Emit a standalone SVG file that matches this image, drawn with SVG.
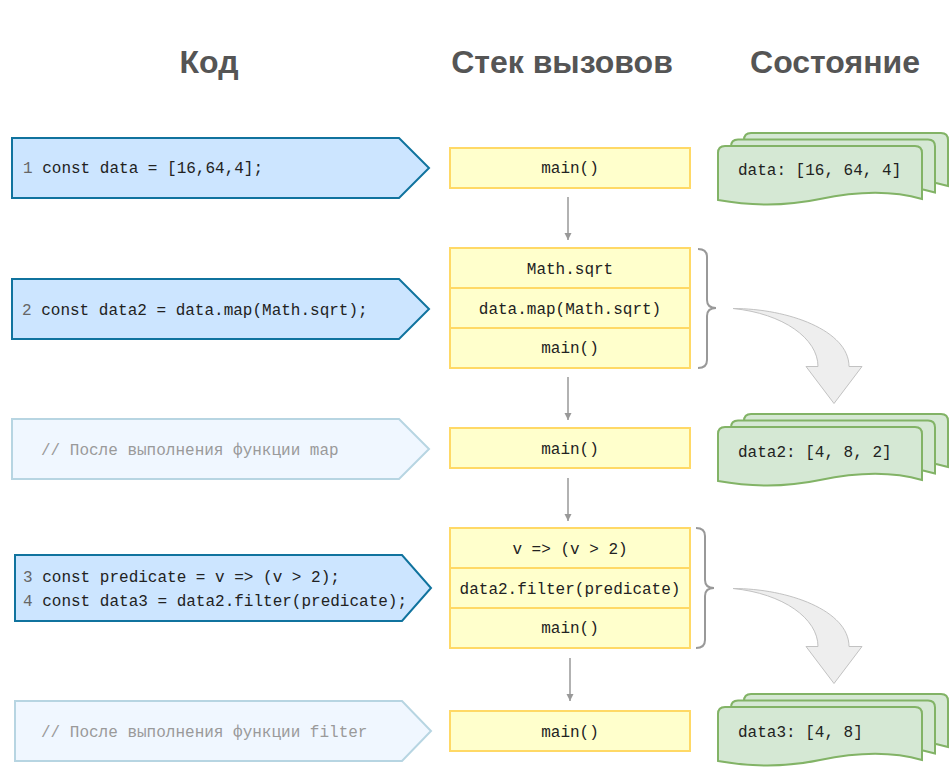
<svg xmlns="http://www.w3.org/2000/svg" width="950" height="769" viewBox="0 0 950 769">
<defs>
<style>
.title{font-family:"Liberation Sans",Arial,sans-serif;font-weight:bold;font-size:32px;fill:#555555;text-anchor:middle}
.code{fill:#cce5ff;stroke:#10739e;stroke-width:2}
.codef{fill:#f0f7ff;stroke:#b7d5e2;stroke-width:2}
.mono{font-family:"Liberation Mono","Courier New",monospace;font-size:16px;fill:#222222}
.num{fill:#666666}
.cmt{font-family:"Liberation Mono","Courier New",monospace;font-size:16px;fill:#9a9a9a}
.stk{fill:#ffffcc;stroke:#ffd966;stroke-width:2}
.stxt{font-family:"Liberation Mono","Courier New",monospace;font-size:16px;fill:#222222;text-anchor:middle}
.doc{fill:#d5e8d4;stroke:#82b366;stroke-width:2}
.conn{stroke:#999999;stroke-width:1.5;fill:none}
.brace{stroke:#999999;stroke-width:2;fill:none}
.flow{fill:#eeeeee;stroke:#c2c2c2;stroke-width:1}
</style>
<marker id="ah" markerWidth="8" markerHeight="8" refX="7" refY="4" orient="auto" markerUnits="userSpaceOnUse">
<path d="M0,0.5 L7,4 L0,7.5 Z" fill="#999999"/>
</marker>
<path id="sheet" d="M0,54 L0,7 Q0,0 7,0 L197,0 Q204,0 204,7 L204,53 C170,43 135,46 102,53 C69,60 34,60 0,54 Z"/>
<path id="curve" d="M0,0 C55,0 116,22 116,58 L129,58 L101,95 L73,58 L85,58 C85,30 50,5 0,0 Z"/>
</defs>
<rect width="950" height="769" fill="#ffffff"/>

<g id="titles">
<text class="title" x="209" y="73">Код</text>
<text class="title" x="562" y="73">Стек вызовов</text>
<text class="title" x="835" y="73">Состояние</text>
</g>

<g id="code1">
<path class="code" d="M12,138 L399,138 L429,168 L399,198 L12,198 Z"/>
<text class="mono" x="23" y="173"><tspan class="num">1</tspan> const data = [16,64,4];</text>
</g>
<g id="code2">
<path class="code" d="M12,279 L399,279 L429,309 L399,339 L12,339 Z"/>
<text class="mono" x="22" y="315"><tspan class="num">2</tspan> const data2 = data.map(Math.sqrt);</text>
</g>
<g id="code3">
<path class="codef" d="M12,419 L399,419 L429,449 L399,479 L12,479 Z"/>
<text class="cmt" x="41" y="455">// После выполнения функции map</text>
</g>
<g id="code4">
<path class="code" d="M15,555 L402,555 L431,588 L402,621 L15,621 Z"/>
<text class="mono" x="23" y="582"><tspan class="num">3</tspan> const predicate = v =&gt; (v &gt; 2);</text>
<text class="mono" x="23" y="606"><tspan class="num">4</tspan> const data3 = data2.filter(predicate);</text>
</g>
<g id="code5">
<path class="codef" d="M15,701 L402,701 L431,731 L402,761 L15,761 Z"/>
<text class="cmt" x="41" y="737">// После выполнения функции filter</text>
</g>

<g id="stack1">
<rect class="stk" x="450" y="148" width="240" height="40"/>
<text class="stxt" x="570" y="173">main()</text>
</g>
<g id="stack2">
<rect class="stk" x="450" y="248" width="240" height="40"/>
<text class="stxt" x="570" y="274">Math.sqrt</text>
<rect class="stk" x="450" y="288" width="240" height="40"/>
<text class="stxt" x="570" y="314">data.map(Math.sqrt)</text>
<rect class="stk" x="450" y="328" width="240" height="40"/>
<text class="stxt" x="570" y="353">main()</text>
</g>
<g id="stack3">
<rect class="stk" x="450" y="428" width="240" height="40"/>
<text class="stxt" x="570" y="454">main()</text>
</g>
<g id="stack4">
<rect class="stk" x="450" y="528" width="240" height="40"/>
<text class="stxt" x="570" y="554">v =&gt; (v &gt; 2)</text>
<rect class="stk" x="450" y="568" width="240" height="40"/>
<text class="stxt" x="570" y="594">data2.filter(predicate)</text>
<rect class="stk" x="450" y="608" width="240" height="40"/>
<text class="stxt" x="570" y="633">main()</text>
</g>
<g id="stack5">
<rect class="stk" x="450" y="711" width="240" height="40"/>
<text class="stxt" x="570" y="737">main()</text>
</g>

<g id="state1">
<use href="#sheet" class="doc" transform="translate(744,133)"/>
<use href="#sheet" class="doc" transform="translate(731,139.5)"/>
<use href="#sheet" class="doc" transform="translate(718,146)"/>
<text class="mono" x="738" y="175">data: [16, 64, 4]</text>
</g>
<g id="state2">
<use href="#sheet" class="doc" transform="translate(744,414)"/>
<use href="#sheet" class="doc" transform="translate(731,420.5)"/>
<use href="#sheet" class="doc" transform="translate(718,427)"/>
<text class="mono" x="738" y="457">data2: [4, 8, 2]</text>
</g>
<g id="state3">
<use href="#sheet" class="doc" transform="translate(744,694)"/>
<use href="#sheet" class="doc" transform="translate(731,700.5)"/>
<use href="#sheet" class="doc" transform="translate(718,707)"/>
<text class="mono" x="738" y="737">data3: [4, 8]</text>
</g>

<g id="connectors">
<line class="conn" x1="568" y1="197" x2="568" y2="240" marker-end="url(#ah)"/>
<line class="conn" x1="568" y1="377" x2="568" y2="420" marker-end="url(#ah)"/>
<line class="conn" x1="568" y1="478" x2="568" y2="521" marker-end="url(#ah)"/>
<line class="conn" x1="570" y1="658" x2="570" y2="701" marker-end="url(#ah)"/>
<path class="brace" d="M698,249 Q707,249 707,257 L707,300 Q707,308 716,308 Q707,308 707,316 L707,360 Q707,368 698,368"/>
<path class="brace" d="M696,528 Q705,528 705,536 L705,580 Q705,588 714,588 Q705,588 705,596 L705,640 Q705,648 696,648"/>
<use href="#curve" class="flow" transform="translate(733,308.5)"/>
<use href="#curve" class="flow" transform="translate(733,588.5)"/>
</g>
</svg>
